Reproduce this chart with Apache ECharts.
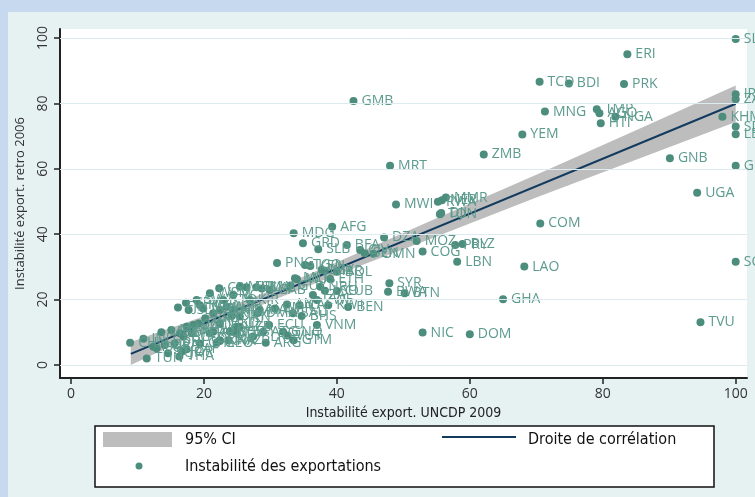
<!DOCTYPE html>
<html>
<head>
<meta charset="utf-8">
<script src="https://cdn.jsdelivr.net/npm/echarts@6/dist/echarts.min.js"></script>
<style>
html, body { margin: 0; padding: 0; width: 755px; height: 497px; background: #c6d9ef; overflow: hidden; }
#chart { position: absolute; left: 8px; top: 12px; width: 747px; height: 485px; }
</style>
</head>
<body>
<div id="chart"></div>
<script>
// Codes pays (étiquettes des points)
const countries = [
  'SLE', 'ERI', 'TCD', 'BDI', 'PRK', 'GMB', 'IRQ', 'ZAR', 'MNG', 'TMP',
  'AGO', 'NGA', 'KHM', 'HTI', 'SDN', 'LBR', 'YEM', 'ZMB', 'GNB', 'MRT',
  'GIN', 'UGA', 'MMR', 'NER', 'RWA', 'MWI', 'TON', 'DJI', 'COM', 'AFG',
  'MDG', 'DZA', 'MOZ', 'GRD', 'BLZ', 'PRY', 'BFA', 'SLB', 'CIV', 'COG',
  'SEN', 'OMN', 'LBN', 'SOM', 'PNG', 'TGO', 'KEN', 'LAO', 'MAR', 'BOL',
  'ETH', 'MUS', 'SYR', 'GUY', 'CRI', 'CUB', 'LSO', 'BWA', 'BTN', 'GHA',
  'CPV', 'BEN', 'VNM', 'ECU', 'LCA', 'TVU', 'NIC', 'DOM', 'VUT', 'GTM',
  'ARG', 'KNA', 'TUN', 'THA',
  'CHN', 'IND', 'PAK', 'EGY', 'MEX', 'BRA', 'TUR', 'MYS', 'PHL', 'IDN',
  'JOR', 'FJI', 'SLV', 'LKA', 'BGD', 'ZAF', 'COL', 'PER', 'SWZ', 'HND',
  'PAN', 'CHL', 'JAM', 'BRB', 'ARM', 'WSM', 'SUR', 'ALB', 'GEO', 'BIH',
  'MKD', 'UKR', 'TTO', 'AZE', 'KAZ', 'KGZ', 'URY', 'VCT', 'MDA', 'UZB',
  'TJK', 'IRN', 'MHL', 'FSM', 'KIR', 'BLR', 'PLW', 'DMA', 'NAM', 'SYC',
  'ATG', 'GAB', 'CMR', 'GNQ', 'ANT', 'SAU', 'CAF', 'BHS', 'MLI', 'TZA',
  'NRU', 'LBY', 'ZWE', 'KWT'
];

// Instabilité export. UNCDP 2009 (axe horizontal)
const instabUncdp2009 = [
  100, 83.7, 70.5, 74.9, 83.2, 42.5, 100, 100, 71.3, 79.1,
  79.5, 81.9, 98.0, 79.7, 100, 100, 67.9, 62.1, 90.1, 48.0,
  100, 94.2, 56.4, 55.8, 55.2, 48.9, 55.5, 55.7, 70.6, 39.3,
  33.5, 47.1, 52.0, 34.9, 58.9, 57.8, 41.5, 37.2, 43.5, 52.9,
  44.2, 45.5, 58.1, 100, 31.0, 35.2, 36.0, 68.2, 38.2, 40.0,
  39.0, 34.0, 47.9, 33.0, 22.3, 40.0, 38.2, 47.7, 50.2, 65.0,
  17.3, 41.7, 37.0, 29.8, 25.4, 94.7, 52.9, 60.0, 32.6, 33.5,
  29.3, 22.4, 11.4, 16.3,
  8.9, 10.9, 12.4, 12.9, 13.6, 14.1, 14.6, 15.1, 15.6, 16.4,
  16.7, 16.1, 17.7, 17.4, 16.9, 17.4, 18.4, 18.2, 18.9, 19.4,
  19.2, 19.4, 19.9, 20.2, 20.9, 20.9, 21.4, 21.4, 21.9, 22.4,
  22.4, 22.4, 22.9, 23.4, 23.7, 23.9, 24.2, 24.4, 24.4, 24.9,
  24.9, 25.4, 25.4, 26.4, 26.9, 27.4, 27.9, 28.1, 28.4, 28.7,
  28.9, 29.9, 30.7, 31.9, 32.5, 33.4, 34.4, 34.7, 33.7, 36.4,
  37.5, 37.7, 37.0, 38.7
];

// Instabilité export. retro 2006 (axe vertical)
const instabRetro2006 = [
  99.7, 95.0, 86.6, 86.1, 85.9, 80.7, 82.8, 81.3, 77.5, 78.2,
  77.0, 75.9, 75.9, 73.9, 72.9, 70.6, 70.5, 64.4, 63.2, 60.9,
  60.9, 52.7, 51.2, 50.4, 49.9, 49.1, 46.1, 46.5, 43.3, 42.3,
  40.3, 39.0, 37.9, 37.2, 37.0, 36.7, 36.7, 35.4, 35.2, 34.7,
  34.2, 34.0, 31.6, 31.6, 31.2, 30.6, 30.3, 30.1, 28.8, 28.5,
  26.3, 26.2, 25.0, 24.3, 23.5, 22.6, 22.7, 22.4, 21.9, 20.1,
  19.0, 17.7, 12.2, 12.2, 11.7, 13.1, 9.9, 9.4, 9.0, 7.6,
  6.8, 7.3, 2.0, 2.6,
  6.8, 8.0, 5.6, 5.1, 10.0, 6.1, 3.6, 10.7, 6.6, 9.7,
  4.1, 17.6, 16.8, 11.7, 8.7, 4.8, 12.2, 9.7, 19.9, 18.3,
  12.7, 6.6, 17.3, 14.3, 9.7, 21.9, 15.8, 10.2, 6.8, 16.8,
  12.7, 7.6, 19.9, 17.8, 7.6, 10.2, 15.0, 21.4, 16.8, 11.7,
  9.7, 14.8, 23.9, 23.8, 19.9, 8.7, 23.8, 15.9, 16.8, 23.4,
  10.2, 22.9, 17.3, 10.2, 18.5, 15.8, 18.3, 15.0, 26.5, 21.4,
  23.9, 29.1, 19.9, 18.3
];

// Droite de corrélation (extrémités)
const fitX = [9, 100];
const fitY = [3.4, 79.9];

// Intervalle de confiance à 95 %
const ciX = [9, 20, 30, 40, 55, 70, 85, 100];
const ciLow = [0.0, 10.5, 19.5, 27.6, 39.3, 51.2, 62.8, 74.3];
const ciHigh = [7.0, 14.9, 22.7, 31.4, 44.9, 58.2, 71.8, 85.5];

// Graduations
const xTicks = [0, 20, 40, 60, 80, 100];
const yTicks = [0, 20, 40, 60, 80, 100];

const dotColor = '#4c8d7d';
const fitColor = '#123a5e';
const legendFont = '"DejaVu Sans Condensed", "Liberation Sans Narrow", sans-serif';

const chart = echarts.init(document.getElementById('chart'));

const option = {
  animation: false,
  backgroundColor: '#e6f1f2',
  grid: {
    left: 52, top: 17, right: 8, bottom: 119,
    show: true, backgroundColor: '#ffffff', borderWidth: 0,
    outerBoundsMode: 'none'
  },
  xAxis: {
    type: 'value',
    min: -1.65, max: 101.7,
    axisLine: { show: true, onZero: false, lineStyle: { color: '#222', width: 2 } },
    axisTick: { show: true, length: 6, customValues: xTicks, lineStyle: { color: '#222', width: 1.5 } },
    axisLabel: { customValues: xTicks, margin: 9, fontSize: 14, color: '#333', fontFamily: 'Open Sans' },
    splitLine: { show: false },
    name: 'Instabilité export. UNCDP 2009',
    nameLocation: 'middle',
    nameGap: 24,
    nameTextStyle: { fontFamily: legendFont, fontSize: 14, color: '#222' }
  },
  yAxis: {
    type: 'value',
    min: -3.98, max: 102.75,
    axisLine: { show: true, onZero: false, lineStyle: { color: '#222', width: 2 } },
    axisTick: { show: true, length: 6, customValues: yTicks, lineStyle: { color: '#222', width: 1.5 } },
    axisLabel: { customValues: yTicks, rotate: 90, margin: 10, fontSize: 14, color: '#333', fontFamily: 'Open Sans' },
    splitLine: { show: false },
    name: 'Instabilité export. retro 2006',
    nameLocation: 'middle',
    nameRotate: 90,
    nameGap: 33,
    nameTextStyle: { fontFamily: 'Open Sans', fontSize: 13, color: '#333' }
  },
  series: [
    {
      // lignes de grille horizontales
      type: 'line',
      data: [],
      z: 1,
      silent: true,
      markLine: {
        silent: true,
        symbol: 'none',
        label: { show: false },
        lineStyle: { color: '#dbebef', width: 1, type: 'solid' },
        data: yTicks.map(v => ({ yAxis: v }))
      }
    },
    {
      name: '95% CI',
      type: 'custom',
      z: 2,
      silent: true,
      data: ciX.map((x, i) => [x, ciLow[i], ciHigh[i]]),
      encode: { x: 0, y: [1, 2] },
      renderItem(params, api) {
        if (params.dataIndex !== 0) return null;
        const pts = [];
        ciX.forEach((x, i) => pts.push(api.coord([x, ciHigh[i]])));
        for (let i = ciX.length - 1; i >= 0; i--) pts.push(api.coord([ciX[i], ciLow[i]]));
        return { type: 'polygon', shape: { points: pts }, style: { fill: '#bdbdbd' } };
      }
    },
    {
      name: 'Droite de corrélation',
      type: 'line',
      z: 3,
      symbol: 'none',
      data: fitX.map((x, i) => [x, fitY[i]]),
      lineStyle: { color: fitColor, width: 2 }
    },
    {
      name: 'Instabilité des exportations',
      type: 'scatter',
      z: 4,
      symbolSize: 8,
      data: countries.map((c, i) => ({ name: c, value: [instabUncdp2009[i], instabRetro2006[i]] })),
      itemStyle: { color: dotColor, opacity: 1 },
      label: {
        show: true,
        position: 'right',
        distance: 4,
        formatter: '{b}',
        color: '#5c9b8d',
        fontSize: 14,
        fontFamily: 'Open Sans'
      }
    }
  ],
  // légende dessinée à la main (cadre Stata)
  graphic: [
    { type: 'rect', shape: { x: 87, y: 414, width: 619, height: 61 }, style: { fill: '#fff', stroke: '#111', lineWidth: 1.5 } },
    { type: 'rect', shape: { x: 95, y: 420, width: 69, height: 15 }, style: { fill: '#bdbdbd' } },
    { type: 'text', x: 177, y: 428, style: { text: '95% CI', fontSize: 16, fontFamily: legendFont, fill: '#111', verticalAlign: 'middle' } },
    { type: 'line', shape: { x1: 434, y1: 425, x2: 508, y2: 425 }, style: { stroke: fitColor, lineWidth: 2 } },
    { type: 'text', x: 520, y: 428, style: { text: 'Droite de corrélation', fontSize: 16, fontFamily: legendFont, fill: '#111', verticalAlign: 'middle' } },
    { type: 'circle', shape: { cx: 131, cy: 454, r: 3.5 }, style: { fill: dotColor } },
    { type: 'text', x: 177, y: 455, style: { text: 'Instabilité des exportations', fontSize: 16, fontFamily: legendFont, fill: '#111', verticalAlign: 'middle' } }
  ]
};

chart.setOption(option);
</script>
</body>
</html>
